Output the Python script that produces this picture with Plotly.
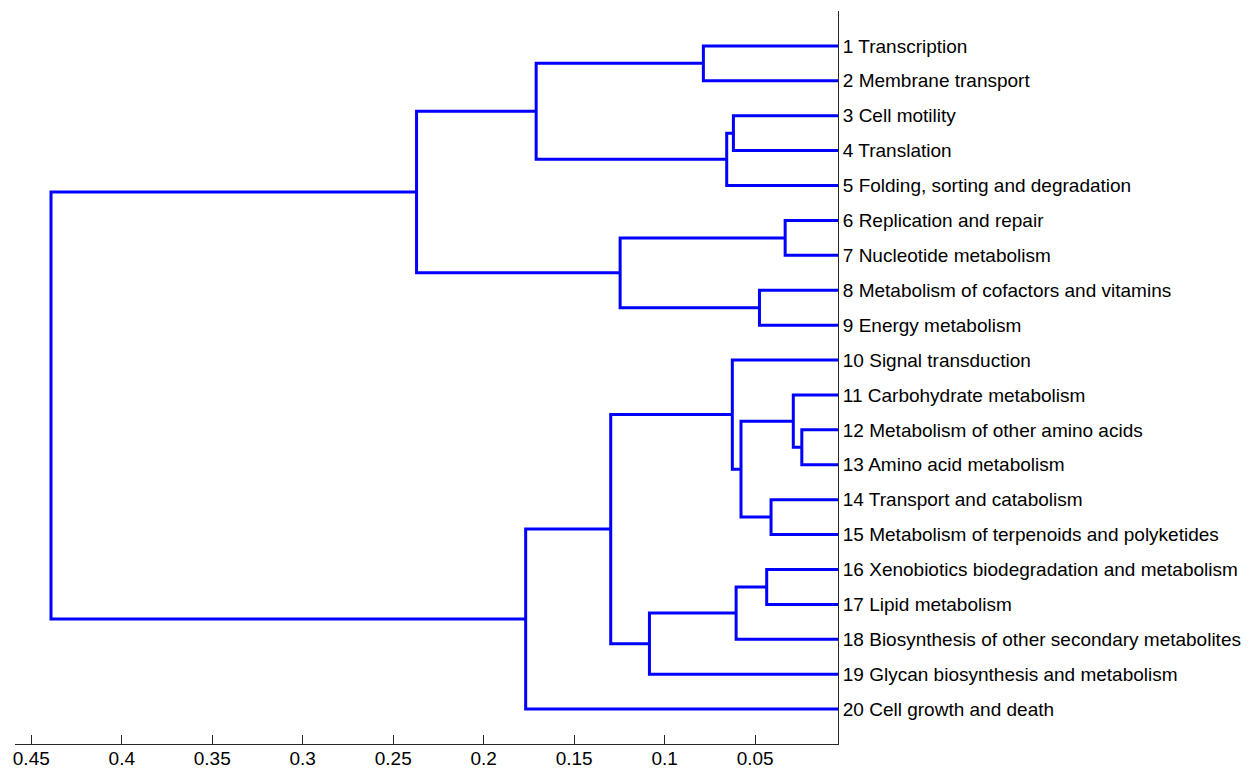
import plotly.graph_objects as go

# Leaf labels, top to bottom
leaf_labels = [
    "1 Transcription",
    "2 Membrane transport",
    "3 Cell motility",
    "4 Translation",
    "5 Folding, sorting and degradation",
    "6 Replication and repair",
    "7 Nucleotide metabolism",
    "8 Metabolism of cofactors and vitamins",
    "9 Energy metabolism",
    "10 Signal transduction",
    "11 Carbohydrate metabolism",
    "12 Metabolism of other amino acids",
    "13 Amino acid metabolism",
    "14 Transport and catabolism",
    "15 Metabolism of terpenoids and polyketides",
    "16 Xenobiotics biodegradation and metabolism",
    "17 Lipid metabolism",
    "18 Biosynthesis of other secondary metabolites",
    "19 Glycan biosynthesis and metabolism",
    "20 Cell growth and death",
]

# Linkage: node ids 1..20 are leaves, each merge creates node 21, 22, ...
merge_left = [12, 11, 6, 14, 16, 8, 22, 25, 3, 10, 29, 1, 28, 23, 30, 32, 35, 36, 38]
merge_right = [13, 21, 7, 15, 17, 9, 24, 18, 4, 27, 5, 2, 19, 26, 33, 31, 20, 34, 37]
merge_height = [0.0242, 0.0289, 0.0334, 0.0412, 0.0436, 0.0476, 0.0578, 0.0605,
                0.0620, 0.0626, 0.0657, 0.0786, 0.1084, 0.1246, 0.1298, 0.1710,
                0.1768, 0.2371, 0.4391]

x_ticks = [0.05, 0.1, 0.15, 0.2, 0.25, 0.3, 0.35, 0.4, 0.45]
x_tick_text = ["0.05", "0.1", "0.15", "0.2", "0.25", "0.3", "0.35", "0.4", "0.45"]

n_leaves = len(leaf_labels)
pos = {i: float(i) for i in range(1, n_leaves + 1)}
height = {i: 0.0 for i in range(1, n_leaves + 1)}

# Each merge is drawn as a bracket: child a -> merge height -> child b
xs, ys = [], []
for k, (a, b, h) in enumerate(zip(merge_left, merge_right, merge_height)):
    node = n_leaves + 1 + k
    xs += [height[a], h, h, height[b], None]
    ys += [pos[a], pos[a], pos[b], pos[b], None]
    pos[node] = (pos[a] + pos[b]) / 2
    height[node] = h

fig = go.Figure()
fig.add_trace(go.Scatter(
    x=xs, y=ys, mode="lines",
    line=dict(color="#0000ff", width=3),
    hoverinfo="skip", showlegend=False,
))

axis_font = dict(family="Liberation Sans, Arial, sans-serif", size=19, color="#000000")

fig.update_layout(
    width=1260, height=770,
    margin=dict(l=15, r=422, t=11, b=26),
    paper_bgcolor="white", plot_bgcolor="white",
    xaxis=dict(
        range=[0.459, 0.0042], automargin=False,
        tickvals=x_ticks, ticktext=x_tick_text,
        ticks="inside", ticklen=9, tickwidth=1, tickcolor="#262626",
        ticklabelstandoff=-3,
        showline=True, linecolor="#262626", linewidth=1,
        showgrid=False, zeroline=False, tickfont=axis_font,
    ),
    yaxis=dict(
        range=[21, 0], side="right", automargin=False,
        tickvals=list(range(1, n_leaves + 1)), ticktext=leaf_labels,
        ticks="", showline=True, linecolor="#262626", linewidth=1,
        showgrid=False, zeroline=False, tickfont=axis_font,
    ),
)

fig.write_html("out.html")
